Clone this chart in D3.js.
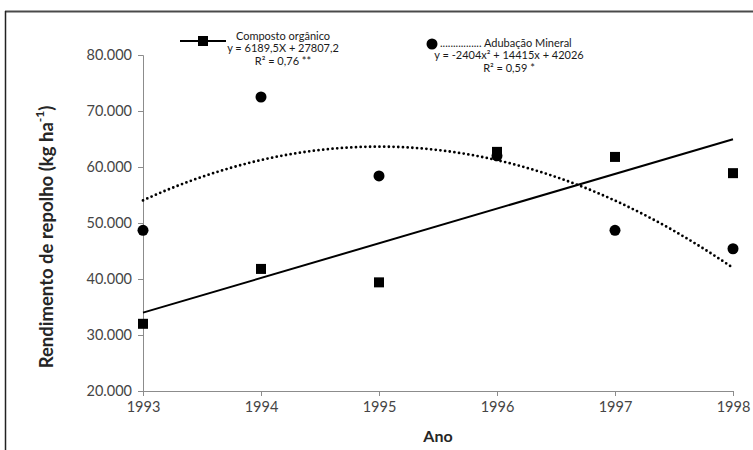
<!DOCTYPE html>
<html>
<head>
<meta charset="utf-8">
<script src="https://cdn.jsdelivr.net/npm/d3@7"></script>
<style>
  html, body { margin: 0; padding: 0; background: #fff; }
  svg { display: block; font-family: Lato, "Open Sans", sans-serif; }
</style>
</head>
<body>
<svg id="chart" width="753" height="450"></svg>
<script>
// Years on the x axis
const years = [1993, 1994, 1995, 1996, 1997, 1998];
// Cabbage yield (kg/ha) with organic compost
const composto = [32000, 41800, 39400, 62700, 61800, 58900];
// Cabbage yield (kg/ha) with mineral fertiliser
const mineral = [48700, 72500, 58400, 62000, 48700, 45400];
// Regression coefficients, X = 1..6 (1993..1998)
const linCoef = [27807.2, 6189.5];          // a + bX
const quadCoef = [42026, 14415, -2404];     // a + bx + cx²
// Y axis tick values
const yTicks = [20000, 30000, 40000, 50000, 60000, 70000, 80000];

const svg = d3.select("#chart");
const plot = { left: 143, right: 733, top: 55, bottom: 391 };

const x = d3.scaleLinear().domain([1993, 1998]).range([plot.left, plot.right]);
const y = d3.scaleLinear().domain([20000, 80000]).range([plot.bottom, plot.top]);

// Outer frame (top and left edges)
svg.append("line").attr("x1", 5).attr("x2", 753).attr("y1", 11.5).attr("y2", 11.5)
  .attr("stroke", "#4a4a4a").attr("stroke-width", 2);
svg.append("line").attr("x1", 5.5).attr("x2", 5.5).attr("y1", 11).attr("y2", 450)
  .attr("stroke", "#222").attr("stroke-width", 1.5);

const fmt = d => d3.format(",")(d).replace(/,/g, ".");

// Axes
const xAxis = svg.append("g").attr("transform", `translate(0,${plot.bottom})`)
  .call(d3.axisBottom(x).tickValues(years).tickFormat(d3.format("d")).tickSizeOuter(0).tickSize(5).tickPadding(6));
const yAxis = svg.append("g").attr("transform", `translate(${plot.left},0)`)
  .call(d3.axisLeft(y).tickValues(yTicks).tickFormat(fmt).tickSizeOuter(0).tickSize(5).tickPadding(6));
[xAxis, yAxis].forEach(g => {
  g.select(".domain").attr("stroke", "#8c8c8c").attr("stroke-width", 1);
  g.selectAll(".tick line").attr("stroke", "#8c8c8c");
  g.selectAll(".tick text").attr("fill", "#454545").style("font-size", "14.5px")
    .style("font-family", "Lato, sans-serif");
});

// Axis titles
svg.append("text").attr("x", (plot.left + plot.right) / 2).attr("y", 438)
  .attr("text-anchor", "middle").attr("dominant-baseline", "middle")
  .style("font-size", "16px").style("font-weight", "bold").attr("fill", "#262626").text("Ano");

const yt = svg.append("text")
  .attr("transform", "translate(48,237) rotate(-90)")
  .attr("text-anchor", "middle").attr("dominant-baseline", "middle")
  .style("font-size", "18.5px").style("font-weight", "bold").attr("fill", "#262626");
yt.append("tspan").text("Rendimento de repolho (kg ha");
yt.append("tspan").attr("dy", -7).style("font-size", "12px").text("-1");
yt.append("tspan").attr("dy", 7).text(")");

// Fitted curves
const linFn = X => linCoef[0] + linCoef[1] * X;
const quadFn = X => quadCoef[0] + quadCoef[1] * X + quadCoef[2] * X * X;
const xs = d3.range(0, 5.0001, 0.05);
const line = d3.line().x(d => x(1993 + d[0])).y(d => y(d[1]));

svg.append("path")
  .attr("d", line([[0, linFn(1)], [5, linFn(6)]]))
  .attr("fill", "none").attr("stroke", "#000").attr("stroke-width", 2);

svg.append("path")
  .attr("d", line(xs.map(t => [t, quadFn(t + 1)])))
  .attr("fill", "none").attr("stroke", "#000").attr("stroke-width", 2.8)
  .attr("stroke-linecap", "round").attr("stroke-dasharray", "0 4.7");

// Data markers
svg.selectAll("rect.comp").data(years).enter().append("rect")
  .attr("class", "comp")
  .attr("x", (d, i) => x(d) - 5).attr("y", (d, i) => y(composto[i]) - 5)
  .attr("width", 10).attr("height", 10).attr("fill", "#000");

svg.selectAll("circle.min").data(years).enter().append("circle")
  .attr("class", "min")
  .attr("cx", d => x(d)).attr("cy", (d, i) => y(mineral[i]))
  .attr("r", 5.5).attr("fill", "#000");

// Legend: organic compost
const lg1 = svg.append("g");
lg1.append("line").attr("x1", 180).attr("x2", 226).attr("y1", 41).attr("y2", 41)
  .attr("stroke", "#000").attr("stroke-width", 2);
lg1.append("rect").attr("x", 198).attr("y", 36).attr("width", 10).attr("height", 10).attr("fill", "#000");
[["Composto orgânico", 37], ["y = 6189,5X + 27807,2", 49.5], ["R² = 0,76 **", 62]].forEach(([t, yy]) => {
  lg1.append("text").attr("x", 283).attr("y", yy).attr("text-anchor", "middle")
    .attr("dominant-baseline", "middle").style("font-size", "11px").attr("fill", "#1a1a1a").text(t);
});

// Legend: mineral fertiliser
const lg2 = svg.append("g");
lg2.append("circle").attr("cx", 432).attr("cy", 44).attr("r", 5.5).attr("fill", "#000");
lg2.append("text").attr("x", 440).attr("y", 44).attr("dominant-baseline", "middle")
  .style("font-size", "11px").attr("fill", "#1a1a1a").text("................ Adubação Mineral");
[["y = -2404x² + 14415x + 42026", 56.5], ["R² = 0,59 *", 69]].forEach(([t, yy]) => {
  lg2.append("text").attr("x", 509).attr("y", yy).attr("text-anchor", "middle")
    .attr("dominant-baseline", "middle").style("font-size", "11px").attr("fill", "#1a1a1a").text(t);
});
</script>
</body>
</html>
